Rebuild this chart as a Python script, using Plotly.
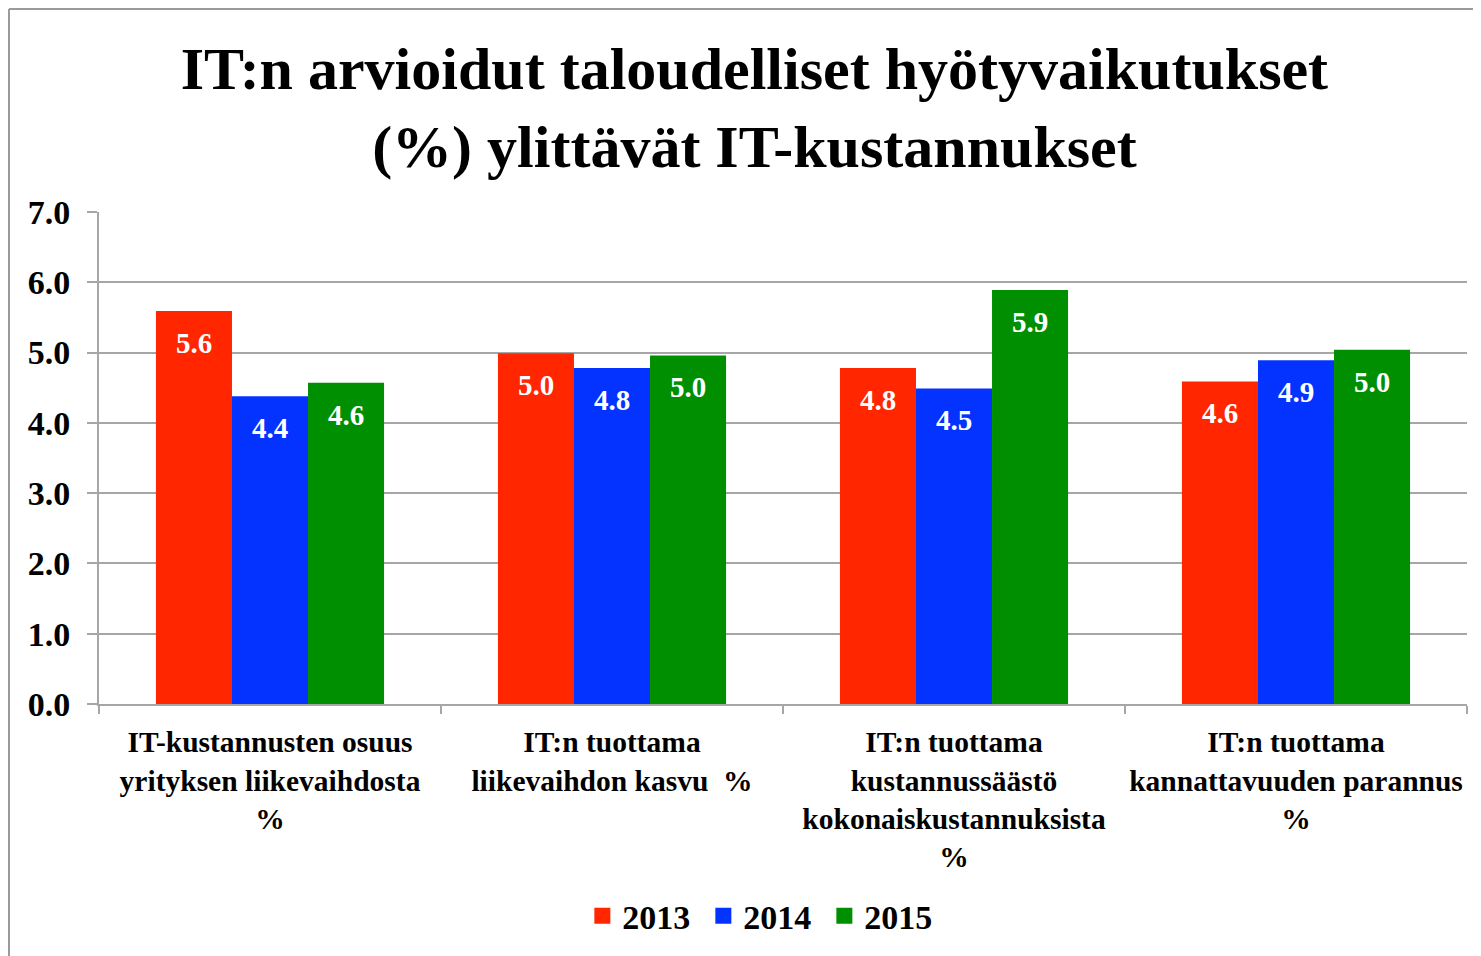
import plotly.graph_objects as go

categories = [
    "IT-kustannusten osuus<br>yrityksen liikevaihdosta<br>%",
    "IT:n tuottama<br>liikevaihdon kasvu  %",
    "IT:n tuottama<br>kustannussäästö<br>kokonaiskustannuksista<br>%",
    "IT:n tuottama<br>kannattavuuden parannus<br>%",
]
years = ["2013", "2014", "2015"]
values_2013 = [5.59, 4.99, 4.78, 4.59]
values_2014 = [4.38, 4.78, 4.49, 4.89]
values_2015 = [4.57, 4.96, 5.89, 5.04]
y_ticks = [0, 1, 2, 3, 4, 5, 6, 7]

colors = ["#FF2600", "#0433FF", "#008F00"]
serif = "Liberation Serif"
grid_col = "#A6A6A6"

fig = go.Figure()
series = [values_2013, values_2014, values_2015]
for name, vals, col in zip(years, series, colors):
    fig.add_trace(go.Bar(x=categories, y=vals, name=name, showlegend=False,
                         marker=dict(color=col, line=dict(width=0))))

# legend entries with bigger square swatches
for name, col in zip(years, colors):
    fig.add_trace(go.Scatter(x=[None], y=[None], mode="markers", name=name,
                             marker=dict(symbol="square", size=16, color=col)))

# value labels inside the top of each bar
bar_px = 342 * (1 - 0.333) / 3
for i, vals in enumerate(series):
    for cat, v in zip(categories, vals):
        fig.add_annotation(
            x=cat, y=v, text=f"{v:.1f}", showarrow=False,
            xshift=(i - 1) * bar_px, yshift=-32, yanchor="middle",
            font=dict(family=serif, size=29, color="white", weight="bold"),
        )

# outer frame (top and left edges)
fig.add_shape(type="line", xref="paper", yref="paper", x0=-0.0658, x1=1.03, y0=1.4126, y1=1.4126,
              line=dict(color="#9A9A9A", width=2))
fig.add_shape(type="line", xref="paper", yref="paper", x0=-0.0658, x1=-0.0658, y0=1.4126, y1=-0.55,
              line=dict(color="#9A9A9A", width=2))

fig.update_layout(
    width=1481, height=956,
    margin=dict(l=91, r=22, t=204, b=260, autoexpand=False),
    paper_bgcolor="white", plot_bgcolor="white",
    barmode="group", bargap=0.333, bargroupgap=0,
    font=dict(family=serif, color="black"),
    title=dict(
        text="IT:n arvioidut taloudelliset hyötyvaikutukset<br>(%) ylittävät IT-kustannukset",
        font=dict(family=serif, size=60, color="black", weight="bold"),
        xref="container", x=0.504, xanchor="center", y=0.915, yanchor="middle",
    ),
    xaxis=dict(
        showline=True, linecolor=grid_col, linewidth=2,
        ticks="outside", ticklen=8, tickcolor=grid_col, tickwidth=2, tickson="boundaries",
        tickfont=dict(family=serif, size=29.5, color="black", weight="bold"),
        tickangle=0, automargin=False, ticklabelstandoff=11,
        showgrid=False,
    ),
    yaxis=dict(
        range=[0, 7], tickvals=y_ticks, tickformat=".1f",
        showline=True, linecolor=grid_col, linewidth=2,
        ticks="outside", ticklen=10, tickcolor=grid_col, tickwidth=2,
        showgrid=True, gridcolor=grid_col, gridwidth=2, zeroline=False,
        tickfont=dict(family=serif, size=34, color="black", weight="bold"),
        automargin=False, ticklabelstandoff=10,
    ),
    legend=dict(
        orientation="h", x=0.486, xanchor="center", y=-0.431, yanchor="middle",
        font=dict(family=serif, size=34, color="black", weight="bold"),
        traceorder="normal", itemsizing="trace",
        entrywidth=76, entrywidthmode="pixels",
    ),
)

fig.write_html("out.html")
